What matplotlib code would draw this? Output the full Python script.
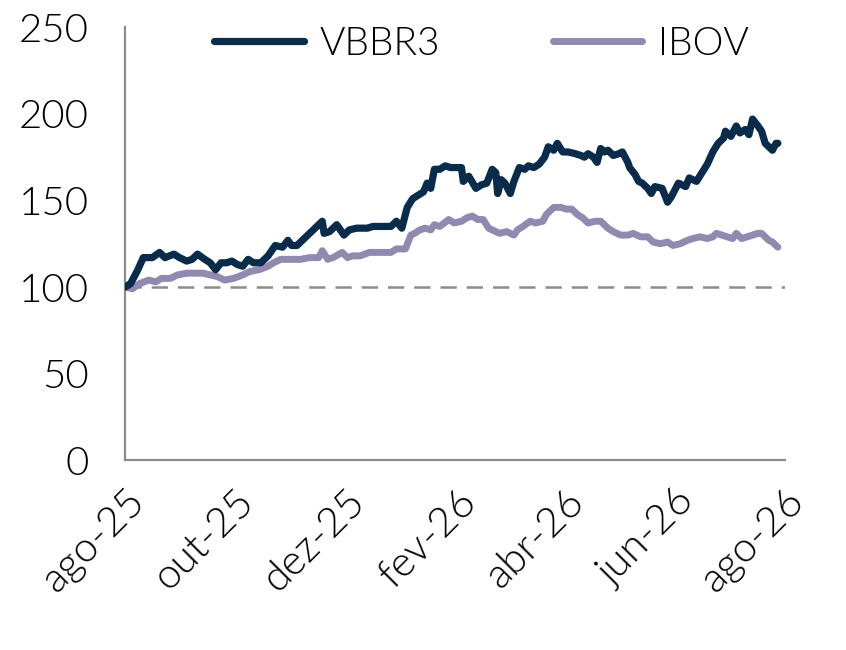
import matplotlib
matplotlib.use('Agg')
import matplotlib.pyplot as plt
import pandas as pd

plt.rcParams['font.family'] = ['Lato', 'DejaVu Sans']
plt.rcParams['font.weight'] = 300

# dados (base 100)
datas_vbbr3 = [
    '2025-08-01', '2025-08-04', '2025-08-08', '2025-08-11', '2025-08-16', '2025-08-20',
    '2025-08-23', '2025-08-28', '2025-08-31', '2025-09-04', '2025-09-07', '2025-09-10',
    '2025-09-14', '2025-09-17', '2025-09-20', '2025-09-23', '2025-09-26', '2025-09-29',
    '2025-10-02', '2025-10-05', '2025-10-08', '2025-10-11', '2025-10-15', '2025-10-19',
    '2025-10-23', '2025-10-27', '2025-10-30', '2025-11-01', '2025-11-04', '2025-11-08',
    '2025-11-11', '2025-11-15', '2025-11-18', '2025-11-19', '2025-11-22', '2025-11-26',
    '2025-11-30', '2025-12-03', '2025-12-07', '2025-12-13', '2025-12-16', '2025-12-20',
    '2025-12-26', '2025-12-29', '2026-01-01', '2026-01-04', '2026-01-07', '2026-01-10',
    '2026-01-13', '2026-01-15', '2026-01-17', '2026-01-19', '2026-01-22', '2026-01-25',
    '2026-01-28', '2026-02-01', '2026-02-03', '2026-02-04', '2026-02-07', '2026-02-11',
    '2026-02-14', '2026-02-17', '2026-02-20', '2026-02-22', '2026-02-23', '2026-02-25',
    '2026-02-27', '2026-03-02', '2026-03-04', '2026-03-07', '2026-03-10', '2026-03-12',
    '2026-03-15', '2026-03-18', '2026-03-21', '2026-03-23', '2026-03-26', '2026-03-28',
    '2026-03-31', '2026-04-03', '2026-04-07', '2026-04-10', '2026-04-12', '2026-04-14',
    '2026-04-17', '2026-04-19', '2026-04-21', '2026-04-23', '2026-04-25', '2026-04-28',
    '2026-05-01', '2026-05-03', '2026-05-06', '2026-05-07', '2026-05-10', '2026-05-12',
    '2026-05-14', '2026-05-17', '2026-05-19', '2026-05-21', '2026-05-25', '2026-05-28',
    '2026-05-30', '2026-06-03', '2026-06-07', '2026-06-09', '2026-06-13', '2026-06-16',
    '2026-06-19', '2026-06-22', '2026-06-25', '2026-06-28', '2026-06-29', '2026-07-02',
    '2026-07-05', '2026-07-07', '2026-07-10', '2026-07-12', '2026-07-14', '2026-07-17',
    '2026-07-19', '2026-07-21', '2026-07-24', '2026-07-25', '2026-07-27', '2026-07-28',
]
vbbr3 = [
    100, 102, 110, 117, 117, 120, 117, 119, 117, 115, 116, 119,
    116, 114, 110, 114, 114, 115, 113, 112, 116, 114, 114, 118,
    124, 123, 127, 124, 124, 128, 131, 135, 138, 131, 132, 136,
    130, 133, 134, 134, 135, 135, 135, 138, 134, 146, 151, 153,
    155, 160, 157, 168, 168, 170, 169, 169, 169, 161, 164, 157,
    159, 160, 168, 166, 154, 162, 160, 154, 161, 169, 168, 170,
    169, 171, 175, 181, 179, 183, 178, 178, 177, 176, 175, 177,
    175, 172, 180, 178, 179, 176, 177, 178, 172, 169, 165, 161,
    160, 157, 154, 158, 157, 149, 152, 160, 158, 163, 161, 166,
    171, 178, 183, 186, 190, 187, 193, 189, 191, 188, 197, 193,
    190, 183, 180, 179, 183, 183,
]

datas_ibov = [
    '2025-08-01', '2025-08-05', '2025-08-09', '2025-08-14', '2025-08-18', '2025-08-21',
    '2025-08-26', '2025-08-30', '2025-09-04', '2025-09-09', '2025-09-13', '2025-09-17',
    '2025-09-21', '2025-09-25', '2025-09-30', '2025-10-05', '2025-10-09', '2025-10-14',
    '2025-10-19', '2025-10-22', '2025-10-26', '2025-10-30', '2025-11-02', '2025-11-06',
    '2025-11-11', '2025-11-16', '2025-11-18', '2025-11-21', '2025-11-24', '2025-11-29',
    '2025-12-02', '2025-12-05', '2025-12-09', '2025-12-14', '2025-12-20', '2025-12-26',
    '2025-12-29', '2026-01-03', '2026-01-06', '2026-01-08', '2026-01-11', '2026-01-14',
    '2026-01-17', '2026-01-19', '2026-01-22', '2026-01-27', '2026-01-30', '2026-02-03',
    '2026-02-06', '2026-02-09', '2026-02-12', '2026-02-15', '2026-02-18', '2026-02-20',
    '2026-02-24', '2026-02-28', '2026-03-04', '2026-03-06', '2026-03-09', '2026-03-13',
    '2026-03-16', '2026-03-20', '2026-03-22', '2026-03-26', '2026-03-30', '2026-04-02',
    '2026-04-05', '2026-04-08', '2026-04-11', '2026-04-14', '2026-04-18', '2026-04-21',
    '2026-04-25', '2026-04-28', '2026-05-02', '2026-05-06', '2026-05-09', '2026-05-13',
    '2026-05-17', '2026-05-20', '2026-05-24', '2026-05-28', '2026-05-31', '2026-06-04',
    '2026-06-08', '2026-06-11', '2026-06-15', '2026-06-19', '2026-06-22', '2026-06-24',
    '2026-06-27', '2026-06-30', '2026-07-03', '2026-07-05', '2026-07-08', '2026-07-11',
    '2026-07-14', '2026-07-17', '2026-07-19', '2026-07-21', '2026-07-23', '2026-07-25',
    '2026-07-28',
]
ibov = [
    100, 99, 102, 104, 103, 105, 105, 107, 108, 108, 108, 107,
    106, 104, 105, 107, 109, 110, 112, 114, 116, 116, 116, 116,
    117, 117, 121, 116, 117, 120, 117, 118, 118, 120, 120, 120,
    122, 122, 130, 131, 133, 134, 133, 136, 135, 139, 137, 138,
    140, 141, 139, 139, 134, 133, 131, 132, 130, 133, 135, 138,
    137, 138, 142, 146, 146, 145, 145, 142, 140, 137, 138, 138,
    134, 132, 130, 130, 131, 129, 129, 126, 125, 126, 124, 125,
    127, 128, 129, 128, 129, 131, 130, 129, 128, 131, 128, 129,
    130, 131, 131, 129, 127, 126, 123,
]

ticks_x = ['2025-08-01', '2025-10-01', '2025-12-01', '2026-02-01',
           '2026-04-01', '2026-06-01', '2026-08-01']
ticks_lbl = ['ago-25', 'out-25', 'dez-25', 'fev-26', 'abr-26', 'jun-26', 'ago-26']
ticks_y = [0, 50, 100, 150, 200, 250]

cor_vbbr3 = '#0a2c4a'
cor_ibov = '#9189b0'
cor_eixo = '#8c8c8c'

fig = plt.figure(figsize=(8.46, 6.5), dpi=100)
ax = fig.add_axes([0.148, 0.292, 0.78, 0.666])

ax.axhline(100, color=cor_eixo, lw=1.8, ls=(0, (6.5, 4)), zorder=1)
ax.plot(pd.to_datetime(datas_ibov), ibov, color=cor_ibov, lw=5.0,
        solid_joinstyle='round', solid_capstyle='round', label='IBOV', zorder=2)
ax.plot(pd.to_datetime(datas_vbbr3), vbbr3, color=cor_vbbr3, lw=5.2,
        solid_joinstyle='round', solid_capstyle='round', label='VBBR3', zorder=3)

ax.set_ylim(0, 250)
ax.set_yticks(ticks_y)
ax.set_xlim(pd.Timestamp(ticks_x[0]), pd.Timestamp(ticks_x[-1]))
ax.set_xticks(pd.to_datetime(ticks_x))
ax.set_xticklabels(ticks_lbl, rotation=45, ha='right', va='top', rotation_mode='anchor')

for s in ['top', 'right']:
    ax.spines[s].set_visible(False)
for s in ['left', 'bottom']:
    ax.spines[s].set_color(cor_eixo)
    ax.spines[s].set_linewidth(1.6)

ax.tick_params(axis='y', length=0, pad=26, labelsize=29, labelcolor='black')
ax.tick_params(axis='x', length=0, pad=16, labelsize=30, labelcolor='black')

h, l = ax.get_legend_handles_labels()
leg = ax.legend(h[::-1], l[::-1], loc='upper center', bbox_to_anchor=(0.54, 1.085),
                ncol=2, frameon=False, fontsize=28, handlelength=2.3,
                handletextpad=0.4, columnspacing=2.9)

fig.savefig('out.png', dpi=100)
